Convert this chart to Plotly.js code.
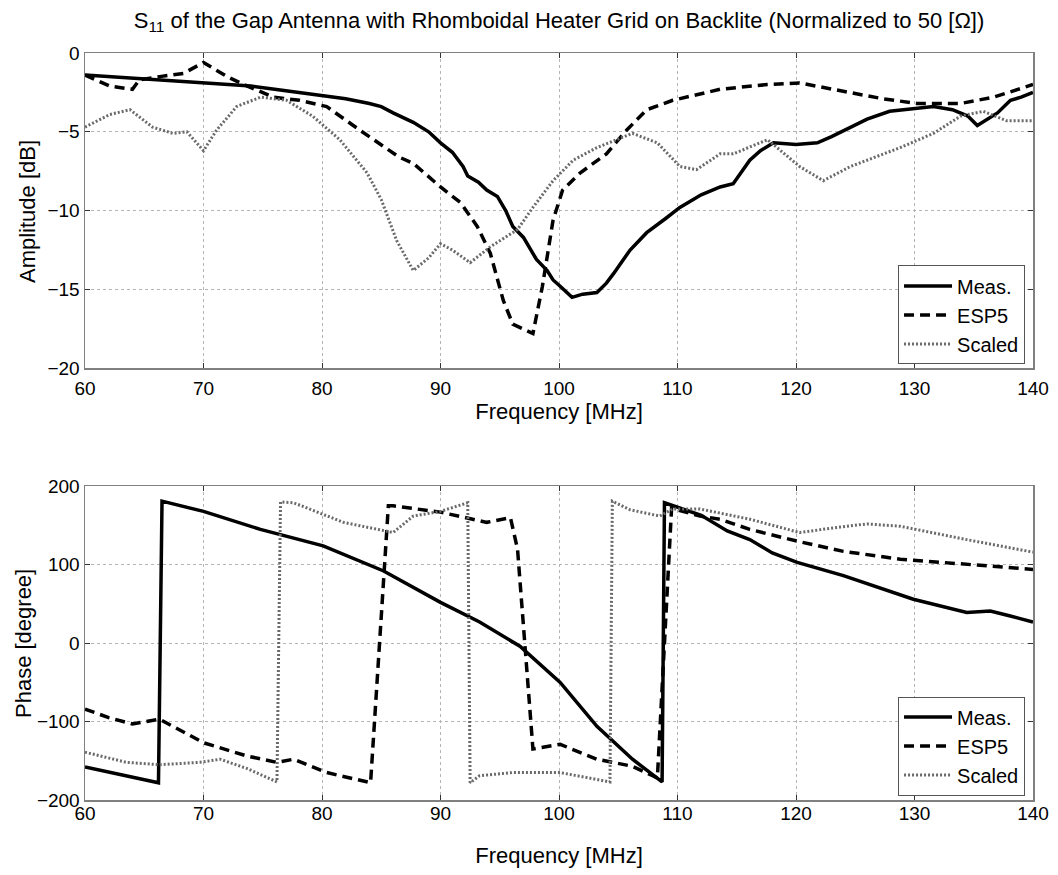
<!DOCTYPE html>
<html>
<head>
<meta charset="utf-8">
<script src="https://cdn.plot.ly/plotly-3.0.1.min.js"></script>
<style>html,body{margin:0;padding:0;background:#fff;}#chart{width:1058px;height:875px;}</style>
</head>
<body>
<div id="chart"></div>
<script>
// ---- Amplitude (top) ----
const measAmpF = [60,62,64,66,68,70,72,74,76,78,80,82,84,85,86,87.7,89,90,91,91.9,92.3,93.2,93.9,94.8,95.5,96.1,97,98.1,99,99.5,100.1,101.1,102,103.2,104,104.6,106,107.4,109,110.2,112,113.6,114.7,116.1,117,118.1,120,121.8,123,124.6,126,127.9,130,131.6,133.2,134.5,135.3,136.4,137,138.1,139,140];
const measAmp  = [-1.4,-1.5,-1.6,-1.7,-1.8,-1.9,-2.0,-2.1,-2.3,-2.5,-2.7,-2.9,-3.2,-3.4,-3.8,-4.4,-5.0,-5.7,-6.3,-7.2,-7.8,-8.2,-8.7,-9.1,-10.0,-11.0,-11.7,-13.1,-13.8,-14.4,-14.8,-15.5,-15.3,-15.2,-14.6,-14.0,-12.5,-11.4,-10.5,-9.8,-9.0,-8.5,-8.3,-6.8,-6.2,-5.7,-5.8,-5.7,-5.3,-4.7,-4.2,-3.7,-3.5,-3.4,-3.6,-4.0,-4.6,-4.1,-3.8,-3.0,-2.8,-2.5];

const espAmpF = [60,62.1,64,64.6,66.3,68.3,70,72,73.7,75.9,78.1,80.4,83.2,84.9,86.5,87.7,90,91.7,93.1,94.2,95.3,96.1,97.8,98.6,99.5,100.3,101.8,104,105.7,107.4,109.6,111.9,113.6,117.6,120.3,123.1,127.3,130.2,133.9,136.7,140];
const espAmp  = [-1.4,-2.1,-2.3,-1.7,-1.5,-1.3,-0.6,-1.5,-2.1,-2.8,-3.0,-3.4,-4.9,-5.8,-6.6,-7.0,-8.5,-9.5,-11.0,-12.7,-15.7,-17.2,-17.8,-14.8,-10.6,-8.7,-7.6,-6.4,-4.9,-3.6,-3.0,-2.6,-2.3,-2.0,-1.9,-2.3,-2.9,-3.2,-3.2,-2.8,-2.0];

const scAmpF = [60,62.1,63.8,65.7,67.4,68.6,70,71.1,72.8,74.8,77,79.2,81.5,83.8,85,86.3,87.7,89,90,91,92.5,94.2,96.5,97.8,99.5,101.2,103.2,106.2,108.3,110.2,111.6,113.6,114.7,117.6,120.3,122.3,124.6,128.8,131.6,133.9,135.8,137.8,140];
const scAmp  = [-4.7,-3.9,-3.6,-4.7,-5.1,-5.0,-6.2,-4.9,-3.4,-2.8,-3.0,-4.0,-5.5,-7.6,-9.3,-11.9,-13.8,-13.0,-12.1,-12.5,-13.3,-12.3,-11.2,-9.8,-8.1,-6.8,-6.0,-5.1,-5.7,-7.2,-7.4,-6.4,-6.4,-5.5,-7.2,-8.1,-7.2,-6.0,-5.1,-4.0,-3.7,-4.3,-4.3];

// ---- Phase (bottom) ----
const measPhF = [60,63,66.2,66.5,70,74.8,80.1,85.2,90,93.3,96.7,100.1,103.2,106.2,108.7,108.9,110.2,112,114.2,116.1,118,120.1,124,129.9,134.4,136.4,138,140];
const measPh  = [-158,-168,-178,181,168,145,124,92,52,27,-4,-50,-106,-148,-177,179,172,163,143,132,115,103,86,56,39,41,35,27];

const espPhF = [60,62,64,66.3,70,73.7,76.2,77.6,80.4,84.1,85.6,86,90,93.9,95.9,96.5,97.8,100.1,103.2,106.2,107.9,108.3,109.5,111.9,113.6,116.1,120.1,124,128.8,134.4,140];
const espPh  = [-84,-95,-103,-97,-127,-144,-152,-148,-165,-178,175,175,167,154,160,120,-135,-129,-148,-157,-169,-172,172,162,158,145,130,117,107,100,94];

const scPhF = [60,63.5,66.3,69.7,71.4,73.7,76.2,76.5,77.6,81.8,86,87.7,90,92.3,92.5,93.3,96.1,100.1,104.3,104.5,106,108.5,109.6,111.9,116.1,120.3,123.7,126,128.8,134.4,140];
const scPh  = [-139,-152,-155,-152,-148,-160,-177,180,179,154,141,162,168,179,-178,-169,-165,-165,-177,181,170,162,171,171,158,141,148,152,149,132,116];

const seriesNames = ['Meas.','ESP5','Scaled'];
const ampTicks = [0,-5,-10,-15,-20];
const phTicks = [200,100,0,-100,-200];
const freqTicks = [60,70,80,90,100,110,120,130,140];
const yTitles = ['Amplitude [dB]','Phase [degree]'];

const FONT = 'Liberation Sans, Arial, sans-serif';
const solid = {color:'#000', width:3.5, dash:'solid'};
const dashed = {color:'#000', width:3.5, dash:'10px,6px'};
const dotted = {color:'#6a6a6a', width:3, dash:'2px,2px'};

const traces = [
  {x:measAmpF, y:measAmp, name:seriesNames[0], mode:'lines', line:solid, xaxis:'x', yaxis:'y', legend:'legend'},
  {x:espAmpF, y:espAmp, name:seriesNames[1], mode:'lines', line:dashed, xaxis:'x', yaxis:'y', legend:'legend'},
  {x:scAmpF, y:scAmp, name:seriesNames[2], mode:'lines', line:dotted, xaxis:'x', yaxis:'y', legend:'legend'},
  {x:measPhF, y:measPh, name:seriesNames[0], mode:'lines', line:solid, xaxis:'x2', yaxis:'y2', legend:'legend2'},
  {x:espPhF, y:espPh, name:seriesNames[1], mode:'lines', line:dashed, xaxis:'x2', yaxis:'y2', legend:'legend2'},
  {x:scPhF, y:scPh, name:seriesNames[2], mode:'lines', line:dotted, xaxis:'x2', yaxis:'y2', legend:'legend2'}
];

const axisCommon = {
  showline:true, linecolor:'#808080', linewidth:1.5, mirror:'ticks',
  ticks:'inside', ticklen:5, tickcolor:'#333', tickwidth:1,
  showgrid:true, gridcolor:'#b5b5b5', griddash:'dot', gridwidth:1,
  zeroline:false, tickfont:{family:FONT, size:19, color:'#000'}
};

const legendCommon = {
  font:{family:FONT, size:20, color:'#000'}, bgcolor:'#fff', bordercolor:'#555', borderwidth:1,
  xanchor:'right', yanchor:'bottom', itemwidth:48, tracegroupgap:0
};

const layout = {
  width:1058, height:875,
  margin:{l:85, r:25, t:53, b:75},
  paper_bgcolor:'#fff', plot_bgcolor:'#fff',
  font:{family:FONT, size:20, color:'#000'},
  showlegend:true,
  title:{text:'S<sub>11</sub> of the Gap Antenna with Rhomboidal Heater Grid on Backlite (Normalized to 50 [Ω])',
         font:{family:FONT, size:22, color:'#000'}, xref:'paper', x:0.5, xanchor:'center', yref:'container', y:1-20/875, yanchor:'middle'},
  xaxis:Object.assign({}, axisCommon, {domain:[0,1], anchor:'y', range:[60,140], tickvals:freqTicks, ticklabelstandoff:2,
         title:{text:'Frequency [MHz]', font:{family:FONT, size:22}, standoff:4}}),
  yaxis:Object.assign({}, axisCommon, {domain:[0.578,1], anchor:'x', range:[-20,0], tickvals:ampTicks}),
  xaxis2:Object.assign({}, axisCommon, {domain:[0,1], anchor:'y2', range:[60,140], tickvals:freqTicks, ticklabelstandoff:-4,
         title:{text:'Frequency [MHz]', font:{family:FONT, size:22}, standoff:24}}),
  yaxis2:Object.assign({}, axisCommon, {domain:[0,0.42], anchor:'x2', range:[-200,200], tickvals:phTicks}),
  legend:Object.assign({}, legendCommon, {x:0.9916, y:0.583}),
  legend2:Object.assign({}, legendCommon, {x:0.9916, y:0.006}),
  annotations:[
    {text:yTitles[0], xref:'paper', yref:'paper', x:-58/948, y:(800-212)/747, xanchor:'center', yanchor:'middle',
     textangle:-90, showarrow:false, font:{family:FONT, size:22, color:'#000'}},
    {text:yTitles[1], xref:'paper', yref:'paper', x:-62/948, y:(800-643)/747, xanchor:'center', yanchor:'middle',
     textangle:-90, showarrow:false, font:{family:FONT, size:22, color:'#000'}}
  ]
};

Plotly.newPlot('chart', traces, layout, {displayModeBar:false, staticPlot:true});
</script>
</body>
</html>
